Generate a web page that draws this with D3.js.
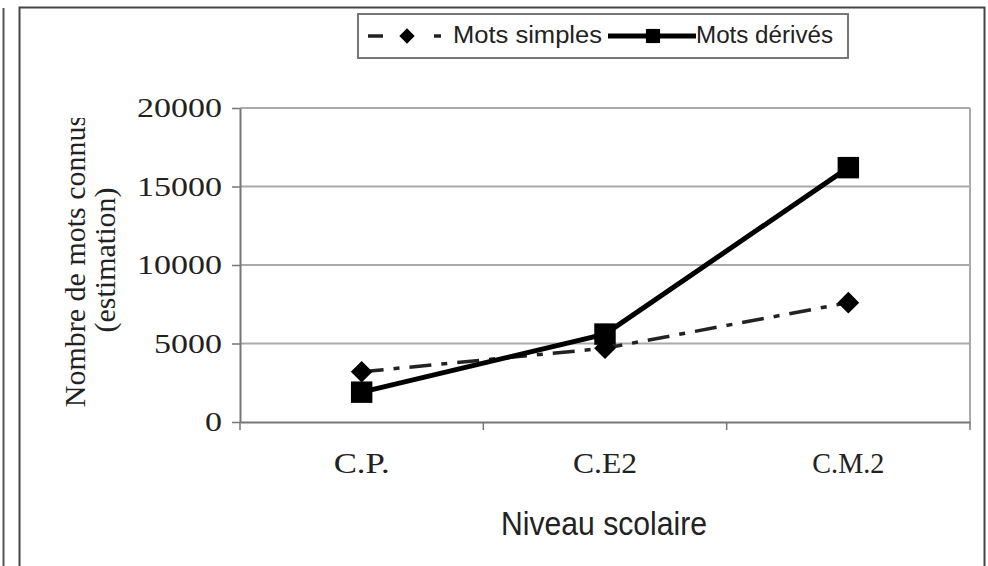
<!DOCTYPE html>
<html><head><meta charset="utf-8">
<script src="https://cdn.jsdelivr.net/npm/d3@7/dist/d3.min.js"></script>
<style>body{margin:0;background:#fff}svg{display:block}</style>
</head><body>
<svg id="c" width="988" height="566"></svg>
<script>
const categories = ["C.P.", "C.E2", "C.M.2"];
const motsSimples = [3200, 4700, 7600];
const motsDerives = [1900, 5600, 16200];
const yTicks = [0, 5000, 10000, 15000, 20000];
const seriesNames = ["Mots simples", "Mots dérivés"];

const svg = d3.select("#c");
const m = {left: 240, right: 970, top: 108, bottom: 422};

// frames
svg.append("line").attr("x1",3.5).attr("x2",3.5).attr("y1",8).attr("y2",566).attr("stroke","#555").attr("stroke-width",2);
svg.append("rect").attr("x",19.5).attr("y",7.5).attr("width",965).attr("height",570)
  .attr("fill","none").attr("stroke","#444").attr("stroke-width",2);

const x = d3.scaleBand().domain(categories).range([m.left, m.right]);
const y = d3.scaleLinear().domain([0, 20000]).range([m.bottom, m.top]);

// gridlines
svg.append("g").selectAll("line").data(yTicks.filter(d=>d>0)).join("line")
  .attr("x1", m.left).attr("x2", m.right).attr("y1", d=>y(d)).attr("y2", d=>y(d))
  .attr("stroke","#aaa").attr("stroke-width",2);
svg.append("line").attr("x1",m.right).attr("x2",m.right).attr("y1",m.top).attr("y2",m.bottom)
  .attr("stroke","#aaa").attr("stroke-width",2);

// y axis
const ya = svg.append("g").attr("transform",`translate(${m.left},0)`)
  .call(d3.axisLeft(y).tickValues(yTicks).tickSize(8).tickSizeOuter(0).tickPadding(10).tickFormat(d3.format("d")));
ya.select(".domain").attr("stroke","#777").attr("stroke-width",2);
ya.selectAll(".tick line").attr("stroke","#777").attr("stroke-width",1.5);
ya.selectAll("text").attr("font-family","'Liberation Serif', serif").attr("font-size",27).attr("fill","#222")
  .attr("textLength", d => String(d).length * 17).attr("lengthAdjust","spacingAndGlyphs");

// x axis
const xa = svg.append("g").attr("transform",`translate(0,${m.bottom})`)
  .call(d3.axisBottom(x).tickSize(0).tickPadding(30));
xa.select(".domain").attr("stroke","#777").attr("stroke-width",2);
const xLens = {"C.P.":56, "C.E2":64, "C.M.2":72};
xa.selectAll("text").attr("font-family","'Liberation Serif', serif").attr("font-size",29).attr("fill","#222")
  .attr("textLength", d => xLens[d]).attr("lengthAdjust","spacingAndGlyphs");
const bounds = categories.map(c=>x(c)).concat([m.right]);
svg.append("g").selectAll("line").data(bounds).join("line")
  .attr("x1",d=>d).attr("x2",d=>d).attr("y1",m.bottom).attr("y2",m.bottom+8)
  .attr("stroke","#777").attr("stroke-width",1.5);

// axis titles
svg.append("defs").append("clipPath").attr("id","yc").append("rect")
  .attr("x",0).attr("y",118).attr("width",200).attr("height",400);
const yt = svg.append("g").attr("clip-path","url(#yc)");
yt.append("text").attr("transform","translate(85,261) rotate(-90)").attr("text-anchor","middle")
  .attr("font-family","'Liberation Serif', serif").attr("font-size",30).attr("fill","#222")
  .text("Nombre de mots connus");
yt.append("text").attr("transform","translate(115,260) rotate(-90)").attr("text-anchor","middle")
  .attr("font-family","'Liberation Serif', serif").attr("font-size",30).attr("fill","#222")
  .text("(estimation)");
svg.append("text").attr("x",604).attr("y",535).attr("text-anchor","middle")
  .attr("font-family","'Liberation Sans', Arial, sans-serif").attr("font-size",33).attr("fill","#222")
  .attr("textLength",206).attr("lengthAdjust","spacingAndGlyphs")
  .text("Niveau scolaire");

const cx = c => x(c) + x.bandwidth()/2;
const line = d3.line().x((d,i)=>cx(categories[i])).y(d=>y(d));

// series
svg.append("path").datum(motsSimples).attr("d",line).attr("fill","none")
  .attr("stroke","#222").attr("stroke-width",3.5).attr("stroke-dasharray","22,10,6,10");
svg.append("path").datum(motsDerives).attr("d",line).attr("fill","none")
  .attr("stroke","#000").attr("stroke-width",5);

const diamond = d3.symbol().type(d3.symbolDiamond2).size(300);
const square = d3.symbol().type(d3.symbolSquare).size(460);
svg.append("g").selectAll("path").data(motsSimples).join("path")
  .attr("transform",(d,i)=>`translate(${cx(categories[i])},${y(d)})`).attr("d",diamond).attr("fill","#000");
svg.append("g").selectAll("path").data(motsDerives).join("path")
  .attr("transform",(d,i)=>`translate(${cx(categories[i])},${y(d)})`).attr("d",square).attr("fill","#000");

// legend
const lg = svg.append("g");
lg.append("rect").attr("x",358).attr("y",14).attr("width",490).attr("height",44)
  .attr("fill","#fff").attr("stroke","#777").attr("stroke-width",2);
lg.append("line").attr("x1",368).attr("x2",383).attr("y1",36).attr("y2",36).attr("stroke","#222").attr("stroke-width",3.5);
lg.append("line").attr("x1",434).attr("x2",441).attr("y1",36).attr("y2",36).attr("stroke","#222").attr("stroke-width",3.5);
lg.append("path").attr("transform","translate(407,36)").attr("d",d3.symbol().type(d3.symbolDiamond2).size(150)).attr("fill","#000");
lg.append("text").attr("x",453).attr("y",43).attr("font-family","'Liberation Sans', Arial, sans-serif")
  .attr("font-size",23).attr("fill","#222").attr("textLength",149).attr("lengthAdjust","spacingAndGlyphs").text(seriesNames[0]);
lg.append("line").attr("x1",608).attr("x2",696).attr("y1",36).attr("y2",36).attr("stroke","#000").attr("stroke-width",5);
lg.append("path").attr("transform","translate(653,36)").attr("d",d3.symbol().type(d3.symbolSquare).size(200)).attr("fill","#000");
lg.append("text").attr("x",696).attr("y",43).attr("font-family","'Liberation Sans', Arial, sans-serif")
  .attr("font-size",23).attr("fill","#222").attr("textLength",137).attr("lengthAdjust","spacingAndGlyphs").text(seriesNames[1]);
</script>
</body></html>
